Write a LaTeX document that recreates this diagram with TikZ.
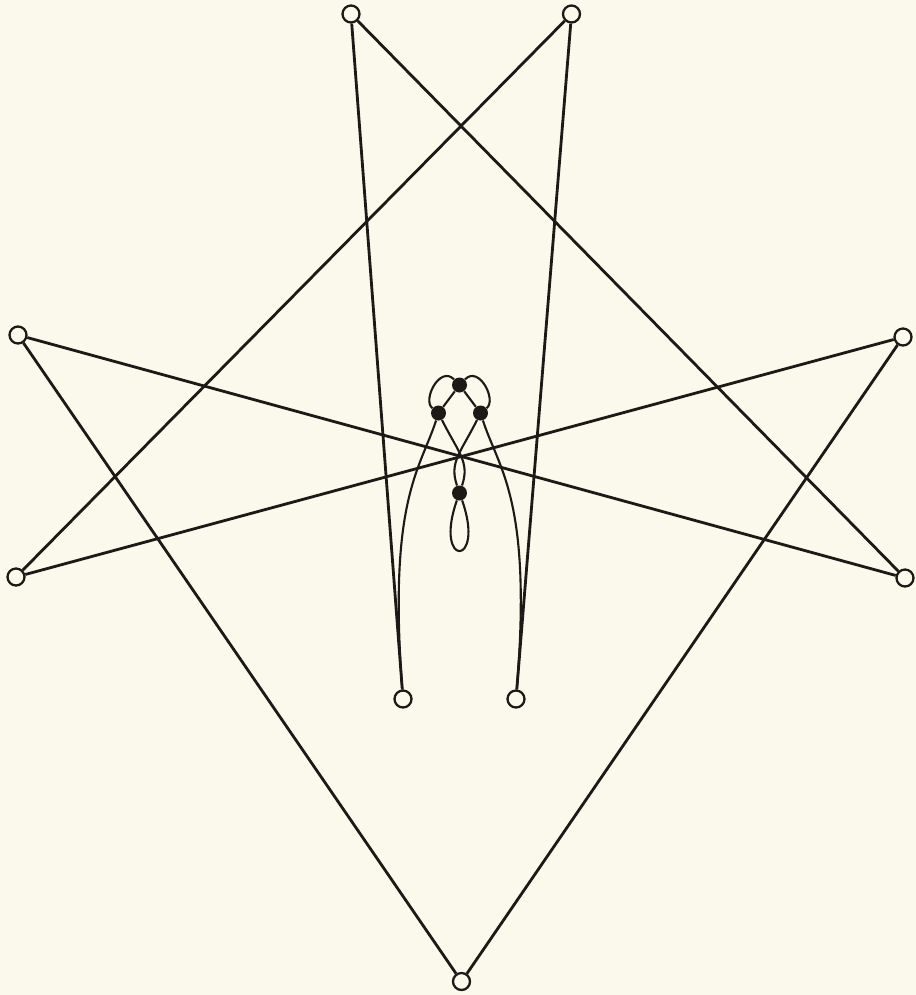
\documentclass[tikz,border=0pt]{standalone}
\definecolor{bg}{RGB}{251,249,236}
\definecolor{ink}{RGB}{28,26,22}
\begin{document}
\begin{tikzpicture}[x=0.02cm,y=-0.02cm,
  open/.style={circle,draw=ink,fill=bg,line width=1.3pt,inner sep=0pt,minimum size=0.34cm},
  dot/.style={circle,fill=ink,inner sep=0pt,minimum size=0.3cm},
  mainline/.style={draw=ink,line width=1.6pt},
  thincurve/.style={draw=ink,line width=1.2pt}]
\fill[bg] (0,0) rectangle (916,995);
\useasboundingbox (0,0) rectangle (916,995);
% open vertices
\node[open] (t1) at (351,14) {};
\node[open] (t2) at (571.5,14) {};
\node[open] (l1) at (18,335) {};
\node[open] (l2) at (16,577) {};
\node[open] (r1) at (903,337) {};
\node[open] (r2) at (905,578) {};
\node[open] (b1) at (403,699) {};
\node[open] (b2) at (516,699) {};
\node[open] (bt) at (461.5,981.5) {};
% filled vertices
\node[dot] (tp) at (459.5,385) {};
\node[dot] (lf) at (438.5,413) {};
\node[dot] (rt) at (480.5,413) {};
\node[dot] (bn) at (459.5,493) {};
% straight edges
\draw[mainline] (t1) -- (b1);
\draw[mainline] (t1) -- (r2);
\draw[mainline] (t2) -- (l2);
\draw[mainline] (t2) -- (b2);
\draw[mainline] (l1) -- (r2);
\draw[mainline] (l1) -- (bt);
\draw[mainline] (r1) -- (l2);
\draw[mainline] (r1) -- (bt);
% inner curved edges
\draw[thincurve] (tp) -- (lf);
\draw[thincurve] (tp) -- (rt);
\draw[thincurve] (tp) .. controls (440,365) and (422,400) .. (lf);
\draw[thincurve] (tp) .. controls (479,365) and (497,400) .. (rt);
\draw[thincurve] (lf) .. controls (458.5,453) and (470,462) .. (bn);
\draw[thincurve] (rt) .. controls (460.5,453) and (449,462) .. (bn);
\draw[thincurve] (bn) .. controls (433,568) and (486,568) .. (bn);
\draw[thincurve] (lf) .. controls (420,470) and (388,500) .. (b1);
\draw[thincurve] (rt) .. controls (499,470) and (532.3,500) .. (b2);
\end{tikzpicture}
\end{document}
